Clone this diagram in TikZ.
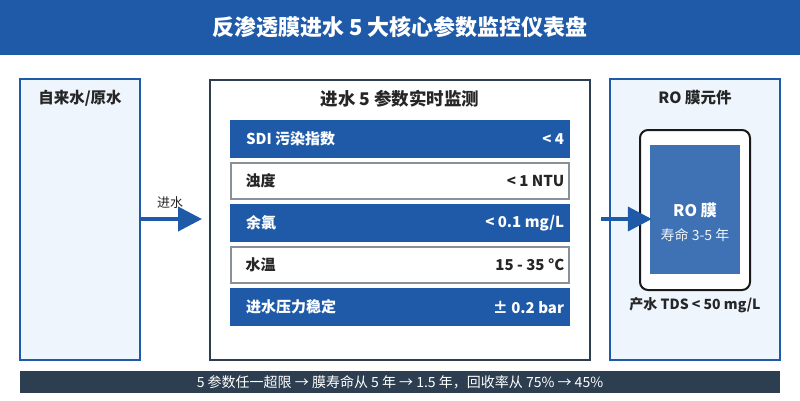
\documentclass[tikz,border=0pt]{standalone}
\usepackage{fontspec}
\setmainfont{Noto Sans CJK SC}
\usepackage{xcolor}
\usetikzlibrary{arrows.meta, positioning, calc}
\definecolor{roblue}{HTML}{1F5AA8}
\definecolor{memblue}{HTML}{3E72B4}
\definecolor{paleblue}{HTML}{EEF5FD}
\definecolor{navy}{HTML}{2C3E50}
\definecolor{rowgray}{HTML}{8A9099}
\tikzset{
    panel/.style={
        rectangle,
        draw=roblue,
        line width=2pt,
        fill=paleblue,
        inner sep=0pt
    },
    monitorbox/.style={
        rectangle,
        draw=navy,
        line width=2pt,
        fill=white,
        inner sep=0pt
    },
    rowfill/.style={
        rectangle,
        fill=roblue,
        minimum width=340pt,
        minimum height=38pt,
        inner sep=0pt
    },
    rowplain/.style={
        rectangle,
        draw=rowgray,
        line width=1.2pt,
        fill=white,
        minimum width=338pt,
        minimum height=36pt,
        inner sep=0pt
    },
    boxtitle/.style={
        font=\fontsize{15.5}{18}\selectfont\bfseries,
        text=black!85,
        inner sep=0pt
    },
    rowtext/.style={
        font=\fontsize{15}{18}\selectfont\bfseries,
        inner sep=0pt
    },
    flow/.style={
        draw=roblue,
        line width=4pt,
        -{Triangle[length=24pt,width=24pt]}
    }
}
\begin{document}
\begin{tikzpicture}[x=1pt, y=-1pt]
\useasboundingbox (0,0) rectangle (800,400);

% Title bar
\fill[roblue] (0,0) rectangle (800,55);
\node[font=\fontsize{22}{26}\selectfont\bfseries, text=white] (title) at (400,27) {反渗透膜进水 5 大核心参数监控仪表盘};

% Source
\node[panel, minimum width=120pt, minimum height=281pt] (src) at (80,219.5) {};
\node[boxtitle, below=12pt of src.north] (srctitle) {自来水/原水};

% Monitor
\node[monitorbox, minimum width=380pt, minimum height=280pt] (monitor) at (400,220) {};
\node[boxtitle, font=\fontsize{17.5}{20}\selectfont\bfseries, below=11pt of monitor.north] (montitle) {进水 5 参数实时监测};

\node[rowfill] (r1) at (400,139) {};
\node[rowplain] (r2) at (400,181) {};
\node[rowfill] (r3) at (400,223) {};
\node[rowplain] (r4) at (400,265) {};
\node[rowfill] (r5) at (400,307) {};

\node[rowtext, text=white, anchor=west, xshift=16pt] (l1) at (r1.west) {SDI 污染指数};
\node[rowtext, text=white, anchor=east, xshift=-6pt] (v1) at (r1.east) {< 4};
\node[rowtext, text=black!85, anchor=west, xshift=15pt] (l2) at (r2.west) {浊度};
\node[rowtext, text=black!85, anchor=east, xshift=-5pt] (v2) at (r2.east) {< 1 NTU};
\node[rowtext, text=white, anchor=west, xshift=16pt] (l3) at (r3.west) {余氯};
\node[rowtext, text=white, anchor=east, xshift=-6pt] (v3) at (r3.east) {< 0.1 mg/L};
\node[rowtext, text=black!85, anchor=west, xshift=15pt] (l4) at (r4.west) {水温};
\node[rowtext, text=black!85, anchor=east, xshift=-5pt] (v4) at (r4.east) {15 - 35 °C};
\node[rowtext, text=white, anchor=west, xshift=16pt] (l5) at (r5.west) {进水压力稳定};
\node[rowtext, text=white, anchor=east, xshift=-6pt] (v5) at (r5.east) {± 0.2 bar};

% RO element
\node[panel, minimum width=170pt, minimum height=281pt] (ro) at (695,219.5) {};
\node[boxtitle, below=12pt of ro.north] (rotitle) {RO 膜元件};
\node[draw=black!90, line width=2pt, fill=white, rounded corners=8pt, minimum width=110pt, minimum height=160pt, inner sep=0pt] (frame) at (695,210) {};
\node[fill=memblue, minimum width=90pt, minimum height=129pt, inner sep=0pt] (mem) at (695,209.5) {};
\node[rowtext, font=\fontsize{16}{19}\selectfont\bfseries, text=white] (memname) at (695,210) {RO 膜};
\node[font=\fontsize{14}{17}\selectfont, text=white!92!memblue, inner sep=0pt] (memlife) at (695,235) {寿命 3-5 年};
\node[rowtext, font=\fontsize{14}{17}\selectfont\bfseries, text=black!85] (tds) at (695,305) {产水 TDS < 50 mg/L};

% Flows
\draw[flow, shorten >=7pt] (src.east |- 0,219) -- (monitor.west |- 0,219);
\node[font=\fontsize{13}{15}\selectfont, text=black!85] (inlbl) at (170,203) {进水};
\draw[flow, shorten <=10pt, shorten >=-2pt] (monitor.east |- 0,219) -- (mem.west |- 0,219);

% Bottom note
\node[fill=navy, minimum width=760pt, minimum height=22pt, inner sep=0pt, text=white, font=\fontsize{14}{16}\selectfont] (note) at (400,382) {5 参数任一超限 → 膜寿命从 5 年 → 1.5 年，回收率从 75\% → 45\%};

\end{tikzpicture}
\end{document}
